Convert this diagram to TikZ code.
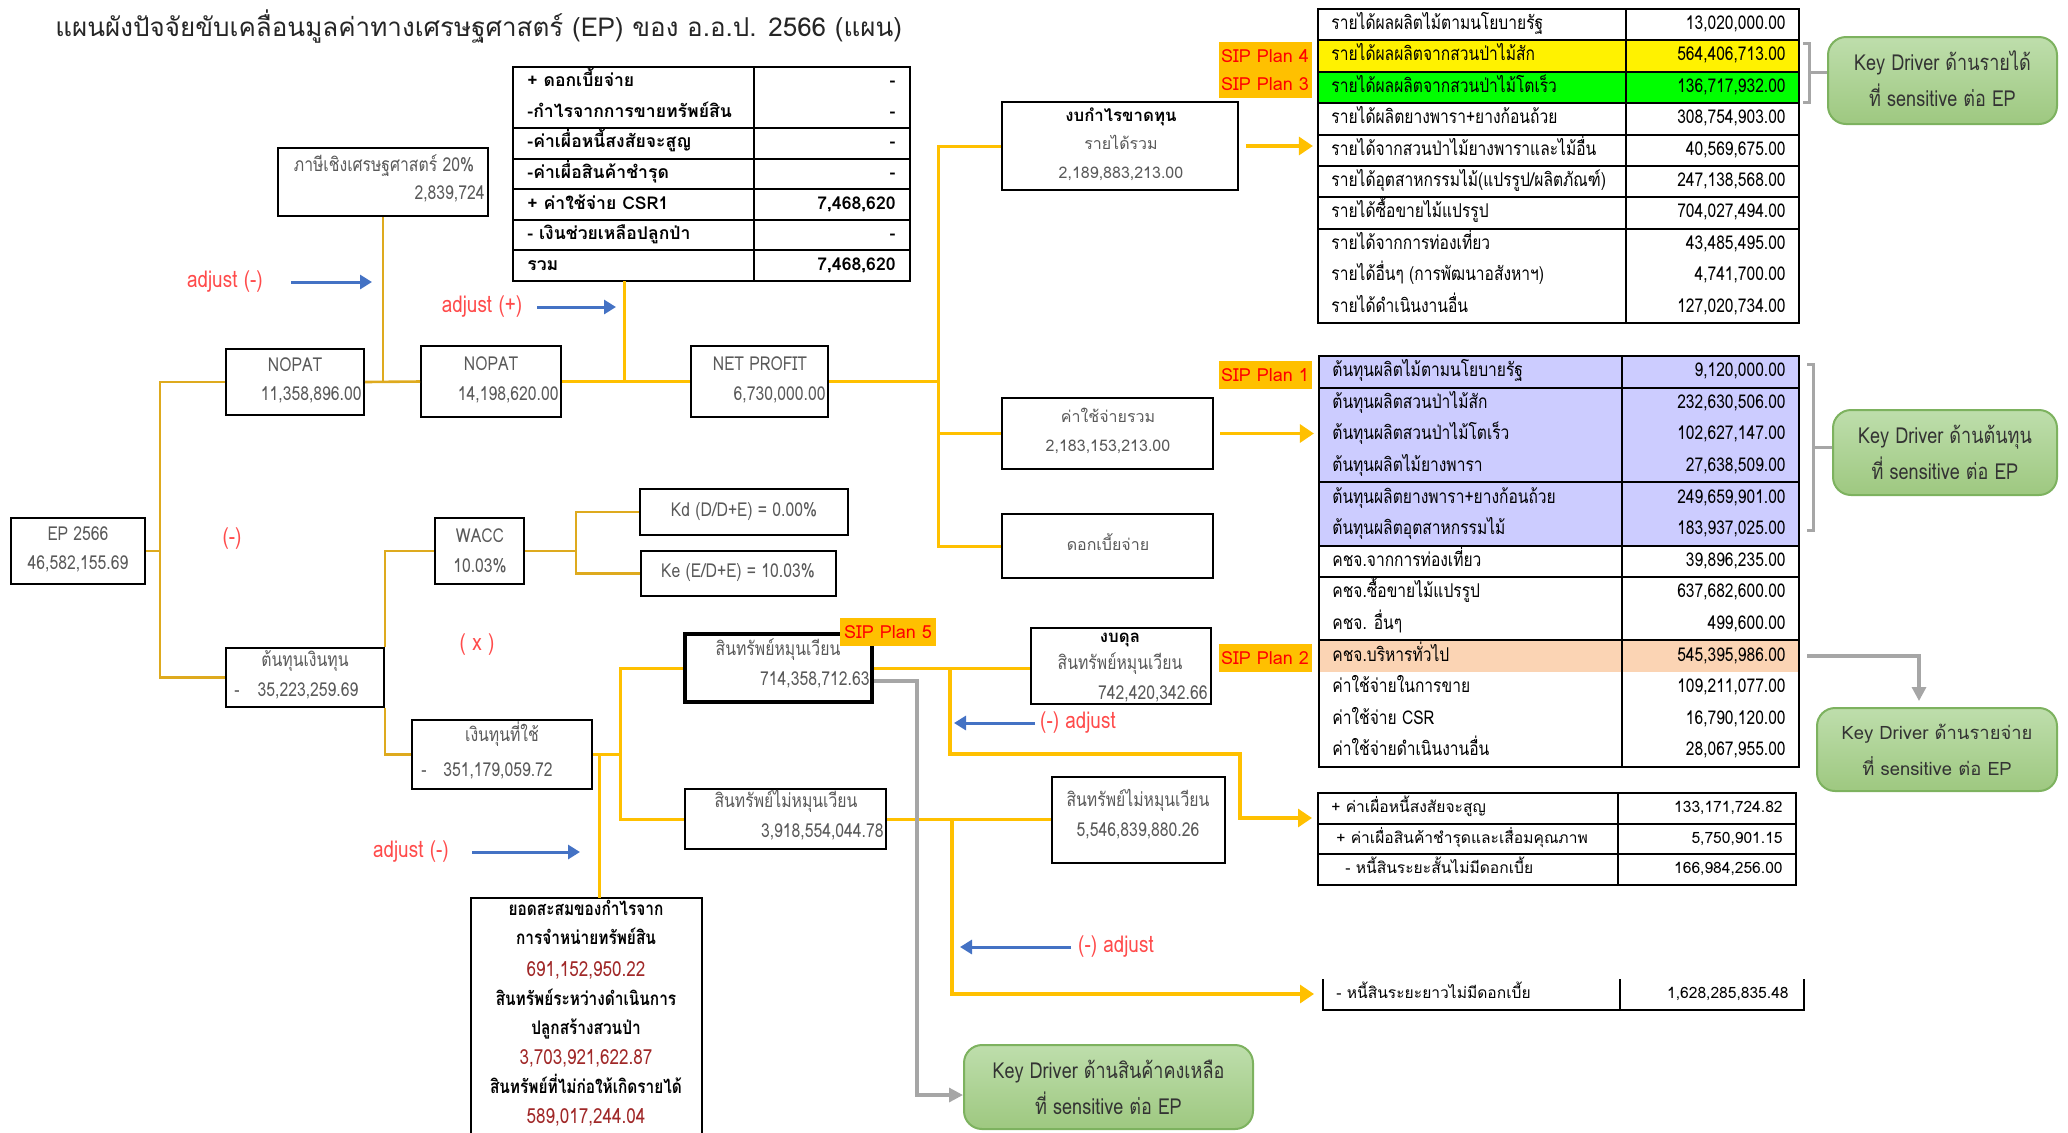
\documentclass[tikz,border=0pt]{standalone}
\usepackage{fontspec}
\setmainfont{Loma}[Script=Thai]
\newfontfamily\cond{Loma}[Script=Thai,FakeStretch=0.82]
\usetikzlibrary{fit,arrows.meta,calc}
\definecolor{gtxt}{RGB}{89,89,89}
\definecolor{gold}{RGB}{222,170,30}
\definecolor{ylw}{RGB}{255,192,0}
\definecolor{sipc}{RGB}{255,192,0}
\definecolor{purp}{RGB}{204,204,255}
\definecolor{peach}{RGB}{251,212,180}
\definecolor{kdtop}{RGB}{190,222,172}
\definecolor{kdbot}{RGB}{158,200,128}
\definecolor{kdborder}{RGB}{125,178,95}
\definecolor{blu}{RGB}{68,114,196}
\definecolor{redt}{RGB}{255,75,75}
\definecolor{dred}{RGB}{160,40,40}
\definecolor{gry}{RGB}{166,166,166}
\begin{document}
\begin{tikzpicture}[x=0.5pt,y=-0.5pt,
  box/.style={draw=black, line width=1pt, inner sep=0pt},
  bt/.style={font=\cond\fontsize{9.6}{11}\selectfont, text=gtxt, inner sep=0pt, text height=6.8pt, text depth=2pt},
  ptx/.style={font=\fontsize{8}{10}\selectfont, text=gtxt, inner sep=0pt, text height=6pt, text depth=2pt},
  rt/.style={font=\cond\fontsize{9.5}{11}\selectfont, text=black, inner sep=0pt, text height=6.8pt, text depth=2pt},
  ct/.style={font=\bfseries\fontsize{8.8}{10}\selectfont, text=black, inner sep=0pt, text height=6.5pt, text depth=2pt},
  dt/.style={font=\fontsize{7.8}{10}\selectfont, text=black, inner sep=0pt, text height=6pt, text depth=2pt},
  act/.style={font=\cond\bfseries\fontsize{9.4}{11}\selectfont, text=black, inner sep=0pt, text height=6.8pt, text depth=2pt},
  acn/.style={font=\cond\fontsize{10.4}{12}\selectfont, text=dred, inner sep=0pt, text height=7.2pt, text depth=2pt},
  tl/.style={draw=black, line width=1pt},
  tframe/.style={draw=black, line width=1.1pt, inner sep=0pt},
  gl/.style={draw=gold, line width=1.3pt},
  yl/.style={draw=ylw, line width=1.5pt},
  ya/.style={draw=ylw, line width=1.6pt, -{Triangle[length=7pt,width=9pt]}},
  ga/.style={draw=gry, line width=1.6pt, -{Triangle[length=7pt,width=7pt]}},
  ba/.style={draw=blu, line width=1.5pt, -{Triangle[length=6pt,width=7pt]}},
  brk/.style={draw=gry, line width=1.5pt},
  redl/.style={text=redt, font=\cond\fontsize{11.5}{14}\selectfont, inner sep=0pt},
  sipl/.style={fill=sipc, text=red, font=\fontsize{9}{10}\selectfont, minimum width=46.5pt, minimum height=14pt, inner sep=0pt},
  kdbox/.style={draw=kdborder, line width=1pt, rounded corners=9pt, top color=kdtop, bottom color=kdbot, inner sep=0pt},
  kdt/.style={align=center, inner sep=0pt, text=black!80, font=\cond\fontsize{11}{18}\selectfont}
]
\useasboundingbox (0,0) rectangle (2068,1132);

% title
\node[anchor=west, font=\fontsize{13}{16}\selectfont, text=black!85, inner sep=0pt] (title) at (55,27) {แผนผังปัจจัยขับเคลื่อนมูลค่าทางเศรษฐศาสตร์ (EP) ของ อ.อ.ป. 2566 (แผน)};

% ---------- CSR table ----------
\foreach \k in {2,...,6} \draw[tl] (513,67+30.57*\k) -- (910,67+30.57*\k);
\draw[tl] (754,67) -- (754,281);
\node[tframe, fit={(513,67) (910,281)}] (csr) {};
\foreach[count=\i] \a/\b in {{+ ดอกเบี้ยจ่าย}/{-},{-กำไรจากการขายทรัพย์สิน}/{-},{-ค่าเผื่อหนี้สงสัยจะสูญ}/{-},{-ค่าเผื่อสินค้าชำรุด}/{-},{+ ค่าใช้จ่าย CSR1}/{7,468,620},{- เงินช่วยเหลือปลูกป่า}/{-},{รวม}/{7,468,620}}{
  \node[ct, anchor=west] (csl\i) at (527,{67+30.57*\i-15.3}) {\a};
  \node[ct, anchor=east] (csv\i) at (896,{67+30.57*\i-15.3}) {\b};
}

% ---------- revenue table ----------
\fill[yellow] (1318,40.4) rectangle (1799,71.8);
\fill[green] (1318,71.8) rectangle (1799,103.2);
\foreach \k in {1,...,7} \draw[tl] (1318,9+31.4*\k) -- (1799,9+31.4*\k);
\draw[tl] (1626,9) -- (1626,323);
\node[tframe, fit={(1318,9) (1799,323)}] (revtab) {};
\foreach[count=\i] \a/\b in {{รายได้ผลผลิตไม้ตามนโยบายรัฐ}/{13,020,000.00},{รายได้ผลผลิตจากสวนป่าไม้สัก}/{564,406,713.00},{รายได้ผลผลิตจากสวนป่าไม้โตเร็ว}/{136,717,932.00},{รายได้ผลิตยางพารา+ยางก้อนถ้วย}/{308,754,903.00},{รายได้จากสวนป่าไม้ยางพาราและไม้อื่น}/{40,569,675.00},{รายได้อุตสาหกรรมไม้(แปรรูป/ผลิตภัณฑ์)}/{247,138,568.00},{รายได้ซื้อขายไม้แปรรูป}/{704,027,494.00},{รายได้จากการท่องเที่ยว}/{43,485,495.00},{รายได้อื่นๆ (การพัฒนาอสังหาฯ)}/{4,741,700.00},{รายได้ดำเนินงานอื่น}/{127,020,734.00}}{
  \node[rt, anchor=west] (rl\i) at (1331,{9+31.4*\i-15.7}) {\a};
  \node[rt, anchor=east] (rv\i) at (1786,{9+31.4*\i-15.7}) {\b};
}

% ---------- cost table ----------
\fill[purp] (1319,356) rectangle (1799,545.6);
\fill[peach] (1319,640.4) rectangle (1799,672);
\foreach \k in {1,4,6,7,9} \draw[tl] (1319,356+31.6*\k) -- (1799,356+31.6*\k);
\draw[tl] (1622,356) -- (1622,767);
\node[tframe, fit={(1319,356) (1799,767)}] (costtab) {};
\foreach[count=\i] \a/\b in {{ต้นทุนผลิตไม้ตามนโยบายรัฐ}/{9,120,000.00},{ต้นทุนผลิตสวนป่าไม้สัก}/{232,630,506.00},{ต้นทุนผลิตสวนป่าไม้โตเร็ว}/{102,627,147.00},{ต้นทุนผลิตไม้ยางพารา}/{27,638,509.00},{ต้นทุนผลิตยางพารา+ยางก้อนถ้วย}/{249,659,901.00},{ต้นทุนผลิตอุตสาหกรรมไม้}/{183,937,025.00},{คชจ.จากการท่องเที่ยว}/{39,896,235.00},{คชจ.ซื้อขายไม้แปรรูป}/{637,682,600.00},{คชจ. อื่นๆ}/{499,600.00},{คชจ.บริหารทั่วไป}/{545,395,986.00},{ค่าใช้จ่ายในการขาย}/{109,211,077.00},{ค่าใช้จ่าย CSR}/{16,790,120.00},{ค่าใช้จ่ายดำเนินงานอื่น}/{28,067,955.00}}{
  \node[rt, anchor=west] (cl\i) at (1332,{356+31.6*\i-15.8}) {\a};
  \node[rt, anchor=east] (cv\i) at (1786,{356+31.6*\i-15.8}) {\b};
}

% ---------- bottom right tables ----------
\draw[tl] (1318,823.7) -- (1796,823.7);
\draw[tl] (1318,854.3) -- (1796,854.3);
\draw[tl] (1618,793) -- (1618,885);
\node[tframe, fit={(1318,793) (1796,885)}] (dtab) {};
\node[dt, anchor=west] (dl1) at (1331,808.5) {+ ค่าเผื่อหนี้สงสัยจะสูญ};
\node[dt, anchor=east] (dv1) at (1783,808.5) {133,171,724.82};
\node[dt, anchor=west] (dl2) at (1336,839) {+ ค่าเผื่อสินค้าชำรุดและเสื่อมคุณภาพ};
\node[dt, anchor=east] (dv2) at (1783,839) {5,750,901.15};
\node[dt, anchor=west] (dl3) at (1345,869.5) {- หนี้สินระยะสั้นไม่มีดอกเบี้ย};
\node[dt, anchor=east] (dv3) at (1783,869.5) {166,984,256.00};

\draw[tl] (1323,979) -- (1323,1010) -- (1804,1010) -- (1804,979);
\draw[tl] (1620,979) -- (1620,1010);
\node[dt, anchor=west] (el1) at (1336,994) {- หนี้สินระยะยาวไม่มีดอกเบี้ย};
\node[dt, anchor=east] (ev1) at (1789,994) {1,628,285,835.48};

% ---------- boxes ----------
\node[box, fit={(278,148) (488,216)}] (tax) {};
\node[bt] (taxa) at (384,167) {ภาษีเชิงเศรษฐศาสตร์ 20\%};
\node[bt, anchor=east] (taxb) at (485,195) {2,839,724};

\node[box, fit={(226,349) (364,415)}] (nopat1) {};
\node[bt] (n1a) at (295,367) {NOPAT};
\node[bt, anchor=east] (n1b) at (362,396) {11,358,896.00};

\node[box, fit={(421,346) (561,417)}] (nopat2) {};
\node[bt] (n2a) at (491,366) {NOPAT};
\node[bt, anchor=east] (n2b) at (559,396) {14,198,620.00};

\node[box, fit={(691,346) (828,417)}] (netp) {};
\node[bt] (npa) at (760,366) {NET PROFIT};
\node[bt, anchor=east] (npb) at (826,396) {6,730,000.00};

\node[box, fit={(11,518) (145,584)}] (ep) {};
\node[bt] (epa) at (78,536) {EP 2566};
\node[bt] (epb) at (78,565) {46,582,155.69};

\node[box, fit={(435,518) (524,584)}] (wacc) {};
\node[bt] (wa) at (480,538) {WACC};
\node[bt] (wb) at (480,568) {10.03\%};

\node[box, fit={(640,489) (848,535)}] (kd) {};
\node[bt] (kdt1) at (744,512) {Kd (D/D+E) = 0.00\%};
\node[box, fit={(641,551) (836,596)}] (ke) {};
\node[bt] (ket) at (738,573) {Ke (E/D+E) = 10.03\%};

\node[box, fit={(226,648) (384,707)}] (coc) {};
\node[bt] (coca) at (305,662) {ต้นทุนเงินทุน};
\node[bt] (cocd) at (237,692) {-};
\node[bt] (cocb) at (308,692) {35,223,259.69};

\node[box, fit={(412,720) (592,789)}] (capu) {};
\node[bt] (capa) at (502,737) {เงินทุนที่ใช้};
\node[bt] (capd) at (424,772) {-};
\node[bt] (capb) at (498,772) {351,179,059.72};

\node[box, line width=2.2pt, fit={(685,634) (872,702)}] (ca) {};
\node[bt] (caa) at (778,651) {สินทรัพย์หมุนเวียน};
\node[bt, anchor=east] (cab) at (870,681) {714,358,712.63};

\node[box, fit={(685,789) (886,849)}] (nca) {};
\node[bt] (ncaa) at (786,803) {สินทรัพย์ไม่หมุนเวียน};
\node[bt, anchor=east] (ncab) at (884,833) {3,918,554,044.78};

\node[box, fit={(1031,628) (1211,704)}] (bs) {};
\node[ptx, text=black, font=\bfseries\fontsize{8.4}{10}\selectfont] (bsa) at (1120,638) {งบดุล};
\node[bt] (bsb) at (1120,665) {สินทรัพย์หมุนเวียน};
\node[bt, anchor=east] (bsc) at (1208,695) {742,420,342.66};

\node[box, fit={(1052,777) (1225,863)}] (nca2) {};
\node[bt] (nc2a) at (1138,802) {สินทรัพย์ไม่หมุนเวียน};
\node[bt] (nc2b) at (1138,832) {5,546,839,880.26};

\node[box, fit={(1002,102) (1238,190)}] (pl) {};
\node[ptx, text=black, font=\bfseries\fontsize{8.4}{10}\selectfont] (pla) at (1121,117) {งบกำไรขาดทุน};
\node[ptx] (plb) at (1121,145) {รายได้รวม};
\node[ptx] (plc) at (1121,174) {2,189,883,213.00};

\node[box, fit={(1002,398) (1213,469)}] (exp) {};
\node[ptx] (expa) at (1108,418) {ค่าใช้จ่ายรวม};
\node[ptx] (expb) at (1108,447) {2,183,153,213.00};

\node[box, fit={(1002,514) (1213,578)}] (intr) {};
\node[ptx] (intra) at (1108,546) {ดอกเบี้ยจ่าย};

% accumulated box
\draw[tl] (471,1140) -- (471,898) -- (702,898) -- (702,1140);
\coordinate (accn) at (599,898);
\node[act] (ac1) at (586,911) {ยอดสะสมของกำไรจาก};
\node[act] (ac2) at (586,940) {การจำหน่ายทรัพย์สิน};
\node[acn] (ac3) at (586,971) {691,152,950.22};
\node[act] (ac4) at (586,1001) {สินทรัพย์ระหว่างดำเนินการ};
\node[act] (ac5) at (586,1030) {ปลูกสร้างสวนป่า};
\node[acn] (ac6) at (586,1059) {3,703,921,622.87};
\node[act] (ac7) at (586,1089) {สินทรัพย์ที่ไม่ก่อให้เกิดรายได้};
\node[acn] (ac8) at (586,1118) {589,017,244.04};

% key driver boxes
\node[kdbox, fit={(1828,37) (2057,124)}] (kdrev) {};
\node[kdt] (kdrevt) at ([yshift=1pt]kdrev.center) {Key Driver ด้านรายได้\\ที่ sensitive ต่อ EP};
\node[kdbox, fit={(1833,410) (2057,495)}] (kdcost) {};
\node[kdt] (kdcostt) at (kdcost.center) {Key Driver ด้านต้นทุน\\ที่ sensitive ต่อ EP};
\node[kdbox, fit={(1817,708) (2057,791)}] (kdexp) {};
\node[kdt, font=\fontsize{9.2}{18}\selectfont] (kdexpt) at (kdexp.center) {Key Driver ด้านรายจ่าย\\ที่ sensitive ต่อ EP};
\node[kdbox, fit={(964,1045) (1253,1129)}] (kdinv) {};
\node[kdt] (kdinvt) at (kdinv.center) {Key Driver ด้านสินค้าคงเหลือ\\ที่ sensitive ต่อ EP};

% SIP labels
\node[sipl] (sip4) at (1265,56) {SIP Plan 4};
\node[sipl] (sip3) at (1265,84) {SIP Plan 3};
\node[sipl] (sip1) at (1265,375) {SIP Plan 1};
\node[sipl] (sip2) at (1265,658) {SIP Plan 2};

% ---------- connectors ----------
\coordinate (j1) at (160,551);
\draw[gl] (ep.east) -- (j1);
\draw[gl] (nopat1.west) -| (j1);
\draw[gl] (coc.west) -| (j1);
\draw[gl] (nopat1.east) -- (nopat2.west);
\draw[gl] (tax.south) -- (tax.south |- nopat1.east);
\draw[yl] (nopat2.east) -- (netp.west);
\coordinate (csrj) at (624,281);
\draw[yl] (csrj) -- (csrj |- netp.west);
\coordinate (j3) at (938,381.5);
\draw[yl] (netp.east) -- (j3);
\draw[yl] (pl.west) -| (j3);
\draw[yl] (intr.west) -| (j3);
\draw[yl] (exp.west) -- (exp.west -| j3);
\draw[ya] ([xshift=3.5pt]pl.east) -- ([xshift=-2pt]pl.east -| revtab.west);
\draw[ya] ([xshift=3pt]exp.east) -- ([xshift=-2pt]exp.east -| costtab.west);

\draw[gl] (wacc.west) -| (coc.north east);
\draw[gl] (capu.west) -| (coc.south east);
\coordinate (j4) at (576,551);
\draw[gl] (wacc.east) -- (j4);
\draw[gl] (kd.west) -| (j4);
\draw[gl] (ke.west) -| (j4);
\coordinate (j5) at (620,754.5);
\draw[yl] (capu.east) -- (j5);
\draw[yl] (ca.west) -| (j5);
\draw[yl] (nca.west) -| (j5);
\draw[yl] (accn) -- (accn |- capu.east);
\draw[yl] (ca.east) -- (ca.east -| bs.west);
\draw[yl] (nca.east) -- (nca.east -| nca2.west);
\coordinate (b1) at (950,668);
\coordinate (b1m) at (1240,754);
\coordinate (t1in) at (1312,818);
\draw[ya] (b1) |- (b1m) |- (t1in);
\coordinate (b2) at (952,819);
\coordinate (t2in) at (1314,994);
\draw[ya] (b2) |- (t2in);
\coordinate (g2) at (917,1095);
\draw[ga] ([yshift=-6.5pt]ca.east) -| (g2) -- (g2 -| kdinv.west);
\coordinate (g3s) at (1807,656);
\draw[ga, shorten >=3pt] (g3s) -| ([xshift=-9pt]kdexp.north);

% brackets
\draw[brk] (1803,43) -- (1809,43) -- (1809,102) -- (1803,102);
\coordinate (brm1) at (1809,72);
\draw[brk] (brm1) -- (brm1 -| kdrev.west);
\draw[brk] (1807,364) -- (1813,364) -- (1813,530) -- (1807,530);
\coordinate (brm2) at (1813,447);
\draw[brk] (brm2) -- (brm2 -| kdcost.west);

% SIP 5 on top of box
\node[sipl, minimum width=48pt] (sip5) at (888,632) {SIP Plan 5};

% adjust labels
\node[redl] (adj1) at (225,282) {adjust (-)};
\coordinate (ba1s) at (291,282); \coordinate (ba1e) at (372,282);
\draw[ba] (ba1s) -- (ba1e);
\node[redl] (adj2) at (482,307) {adjust (+)};
\coordinate (ba2s) at (537,307); \coordinate (ba2e) at (616,307);
\draw[ba] (ba2s) -- (ba2e);
\node[redl] (adj3) at (411,852) {adjust (-)};
\coordinate (ba3s) at (472,852); \coordinate (ba3e) at (580,852);
\draw[ba] (ba3s) -- (ba3e);
\node[redl] (adj4) at (1078,723) {(-) adjust};
\coordinate (ba4s) at (1035,723); \coordinate (ba4e) at (954,723);
\draw[ba] (ba4s) -- (ba4e);
\node[redl] (adj5) at (1116,947) {(-) adjust};
\coordinate (ba5s) at (1071,947); \coordinate (ba5e) at (960,947);
\draw[ba] (ba5s) -- (ba5e);
\node[redl] (minus) at (232,539) {(-)};
\node[redl] (times) at (477,645) {( x )};
\end{tikzpicture}
\end{document}
